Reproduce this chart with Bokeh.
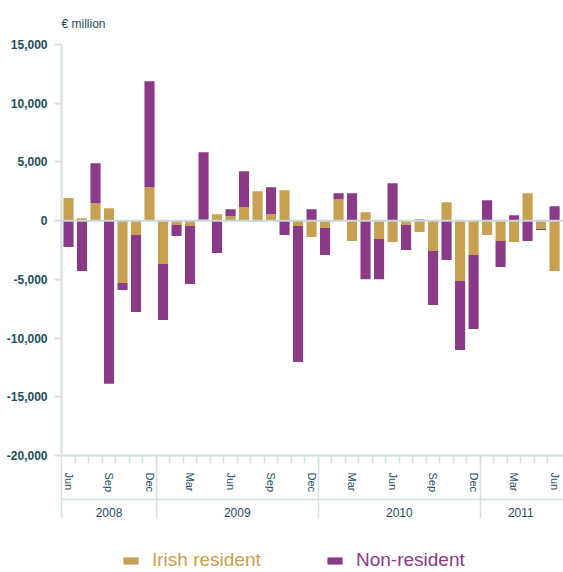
import numpy as np
from bokeh.plotting import figure
from bokeh.layouts import column
from bokeh.models import (ColumnDataSource, FixedTicker, LinearAxis, Legend, LegendItem,
                          Span, Range1d, NumeralTickFormatter)
from bokeh.embed import file_html
from bokeh.resources import INLINE

# ---------------- data ----------------
months = ["Jun", "Jul", "Aug", "Sep", "Oct", "Nov", "Dec",
          "Jan", "Feb", "Mar", "Apr", "May", "Jun", "Jul", "Aug", "Sep", "Oct", "Nov", "Dec",
          "Jan", "Feb", "Mar", "Apr", "May", "Jun", "Jul", "Aug", "Sep", "Oct", "Nov", "Dec",
          "Jan", "Feb", "Mar", "Apr", "May", "Jun"]
years = ["2008"] * 7 + ["2009"] * 12 + ["2010"] * 12 + ["2011"] * 6
labelled_months = ["Mar", "Jun", "Sep", "Dec"]

irish_resident = [1930, 200, 1480, 1050, -5310, -1220, 2840,
                  -3690, -370, -450, 100, 540, 370, 1160, 2500, 540, 2580, -450, -1390,
                  -620, 1820, -1730, 710, -1560, -1820, -370, -970, -2580, 1560, -5140, -2920,
                  -1220, -1730, -1820, 2330, -710, -4290]
non_resident = [-2240, -4290, 3400, -13900, -590, -6560, 9030,
                -4770, -940, -4950, 5720, -2750, 600, 3040, -50, 2300, -1220, -11590, 966,
                -2300, 510, 2330, -5000, -3440, 3180, -2130, 100, -4600, -3350, -5880, -6300,
                1730, -2210, 450, -1730, -90, 1220]
y_ticks = [-20000, -15000, -10000, -5000, 0, 5000, 10000, 15000]

# ---------------- styling ----------------
GOLD = "#C7A052"
PURPLE = "#8B3A87"
TEAL = "#1E4D5C"
LIGHT = "#D3DFE2"
FONT = "Liberation Sans"

n = len(months)
x = np.arange(n)
ir = np.array(irish_resident, dtype=float)
nr = np.array(non_resident, dtype=float)
# non-resident stacked beyond Irish resident when same sign, else from zero
nr_base = np.where(np.sign(nr) == np.sign(ir), ir, 0.0)

src = ColumnDataSource(dict(x=x, ir=ir, zero=np.zeros(n), nr_b=nr_base, nr_t=nr_base + nr))

x_start, x_end = -0.52, 36.66
p = figure(width=563, height=530, output_backend="svg", toolbar_location=None,
           x_range=Range1d(x_start, x_end), y_range=Range1d(min(y_ticks), max(y_ticks)),
           min_border_left=61, min_border_right=0, min_border_top=44, min_border_bottom=75)
p.outline_line_color = None
p.background_fill_color = "white"
p.border_fill_color = "white"

r_ir = p.vbar(x="x", bottom="zero", top="ir", width=0.75, source=src,
              fill_color=GOLD, line_color=None)
r_nr = p.vbar(x="x", bottom="nr_b", top="nr_t", width=0.75, source=src,
              fill_color=PURPLE, line_color=None)

p.add_layout(Span(location=0, dimension="width", line_color="#C9D7DB",
                  line_width=2, level="overlay"))

# title
p.title.text = "€ million"
p.title.text_font = FONT
p.title.text_font_size = "12px"
p.title.text_font_style = "normal"
p.title.text_color = TEAL
p.title.align = "left"
p.title.standoff = 27

# y axis
yax = p.yaxis[0]
yax.ticker = FixedTicker(ticks=y_ticks)
yax.formatter = NumeralTickFormatter(format="0,0")
yax.major_label_text_font = FONT
yax.major_label_text_font_size = "12px"
yax.major_label_text_font_style = "bold"
yax.major_label_text_color = TEAL
yax.major_tick_out = 7
yax.major_tick_in = 0
yax.major_tick_line_color = LIGHT
yax.major_tick_line_width = 2
yax.minor_tick_line_color = None
yax.axis_line_color = LIGHT
yax.axis_line_width = 2
yax.major_label_standoff = 7

p.xgrid.visible = False
p.ygrid.ticker = FixedTicker(ticks=[max(y_ticks)])
p.ygrid.grid_line_color = LIGHT
p.ygrid.grid_line_width = 2

# x axis (months)
centers = list(range(n))
bounds = [i + 0.5 for i in range(n - 1)]
xax = p.xaxis[0]
xax.ticker = FixedTicker(ticks=centers, minor_ticks=bounds)
xax.major_label_overrides = {i: (m if m in labelled_months else "") for i, m in enumerate(months)}
xax.major_label_orientation = "vertical"
xax.major_label_text_font = FONT
xax.major_label_text_font_size = "11px"
xax.major_label_text_color = TEAL
xax.major_label_standoff = 9
xax.major_tick_out = 0
xax.major_tick_in = 0
xax.minor_tick_out = 8
xax.minor_tick_in = 0
xax.minor_tick_line_color = LIGHT
xax.minor_tick_line_width = 1.5
xax.axis_line_color = LIGHT
xax.axis_line_width = 2
xax.axis_label = " "
xax.axis_label_text_font_size = "1px"
xax.axis_label_standoff = 0

# x axis (years)
year_names = list(dict.fromkeys(years))
year_centers = [float(np.mean([i for i, yv in enumerate(years) if yv == yn])) for yn in year_names]
year_bounds = [x_start] + [i - 0.5 for i in range(1, n) if years[i] != years[i - 1]]
yrax = LinearAxis(ticker=FixedTicker(ticks=year_centers, minor_ticks=year_bounds))
yrax.major_label_overrides = {c: yn for c, yn in zip(year_centers, year_names)}
yrax.major_label_text_font = FONT
yrax.major_label_text_font_size = "12px"
yrax.major_label_text_color = TEAL
yrax.major_label_standoff = -11
yrax.major_tick_out = 0
yrax.major_tick_in = 0
yrax.minor_tick_in = 43
yrax.minor_tick_out = 19
yrax.minor_tick_line_color = LIGHT
yrax.minor_tick_line_width = 1.5
yrax.axis_line_color = LIGHT
yrax.axis_line_width = 1.5
p.add_layout(yrax, "below")

# ---------------- legend strip ----------------
lf = figure(width=563, height=42, output_backend="svg", toolbar_location=None,
            x_range=Range1d(0, 1), y_range=Range1d(0, 1), min_border=0)
lf.axis.visible = False
lf.grid.visible = False
lf.outline_line_color = None
lf.background_fill_color = "white"
lf.border_fill_color = "white"
# zero-height proxy bars, only used as legend swatches
d_ir = lf.vbar(x=[0.5], bottom=[0], top=[0], width=0.0, fill_color=GOLD, line_color=None)
d_nr = lf.vbar(x=[0.5], bottom=[0], top=[0], width=0.0, fill_color=PURPLE, line_color=None)


def make_legend(label, renderer, color, loc):
    lg = Legend(items=[LegendItem(label=label, renderers=[renderer])],
                location=loc, orientation="horizontal",
                border_line_color=None, background_fill_alpha=0,
                padding=0, margin=0, spacing=0,
                glyph_width=19, glyph_height=9, label_standoff=12,
                label_text_font=FONT, label_text_font_size="19px",
                label_text_color=color, label_height=20)
    lf.add_layout(lg, "center")
    return lg


make_legend("Irish resident", d_ir, GOLD, (60, 1))
make_legend("Non-resident", d_nr, PURPLE, (264, 1))

layout = column(p, lf, spacing=0)
open("out.html", "w").write(file_html(layout, INLINE))
